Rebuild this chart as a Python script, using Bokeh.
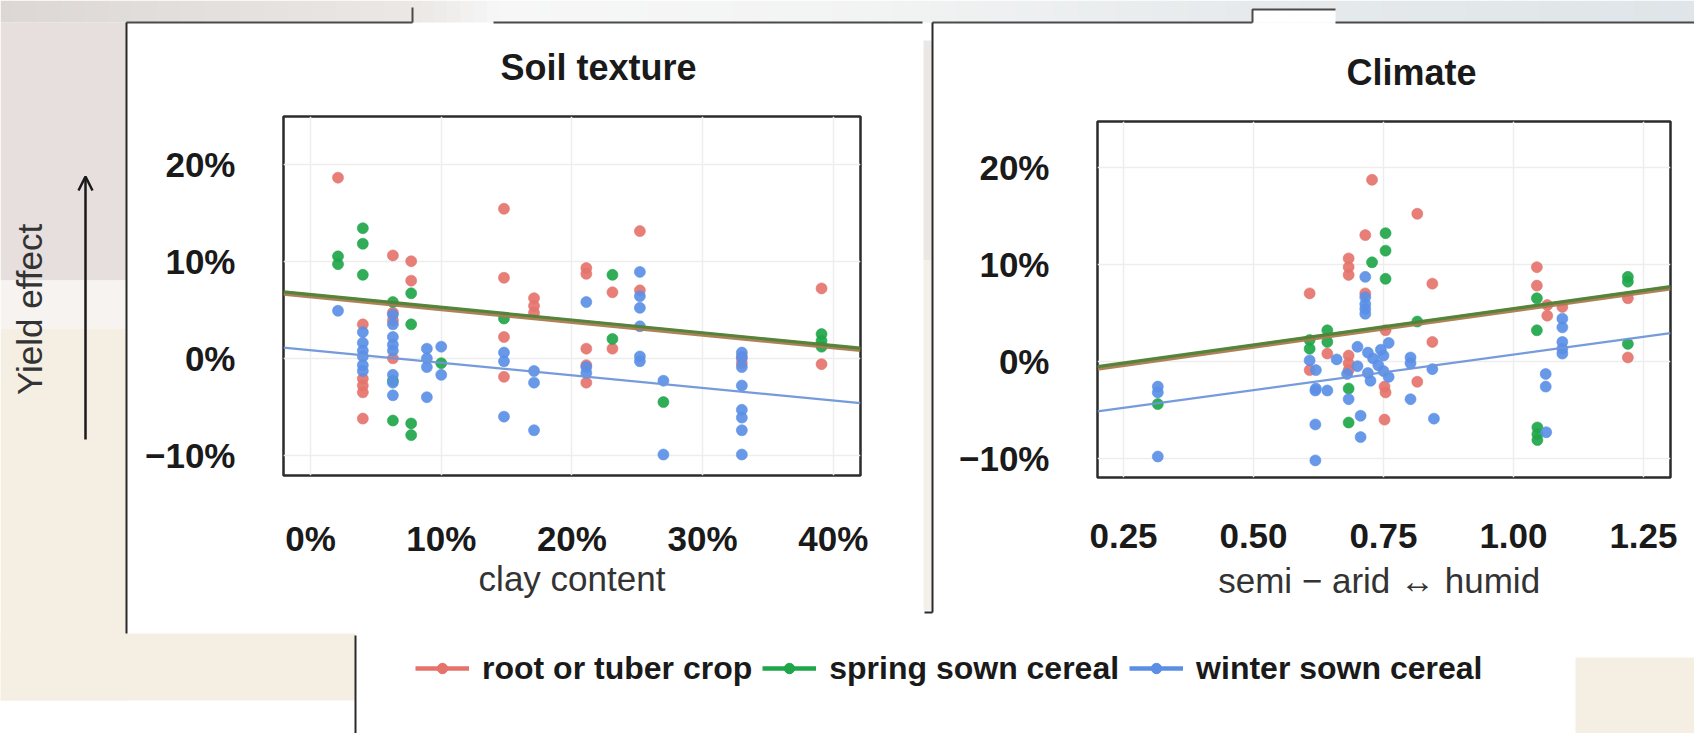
import math
from bokeh.plotting import figure
from bokeh.models import (Range1d, FixedTicker, CustomJSTickFormatter, Legend, LegendItem,
                          Arrow, OpenHead, GridBox, Label)
from bokeh.embed import file_html
from bokeh.resources import INLINE

W, H = 1694, 733
FONT = "Liberation Sans"
INK = "#1a1a1a"
NAN = float("nan")

# ---------------------------------------------------------------- data
crop_groups = ["root or tuber crop", "spring sown cereal", "winter sown cereal"]
group_colors = ["#E5736C", "#1FA64A", "#5B8FE6"]
fit_colors = ["#A97B50", "#4F8338", "#6E96DA"]
fit_widths = [5.0, 3.2, 2.2]

# Soil texture panel: clay content (%) vs yield effect (%)
soil_clay_root = [2.1, 4.0, 4.0, 4.0, 4.0, 4.0, 6.3, 6.3, 6.3, 6.3, 7.7, 7.7,
                  14.8, 14.8, 14.8, 14.8, 17.1, 17.1, 17.1, 21.1, 21.1, 21.1, 21.1, 21.1,
                  23.1, 23.1, 25.2, 25.2, 33.0, 33.0, 39.1, 39.1]
soil_yield_root = [18.6, 3.5, -2.1, -2.8, -3.5, -6.2, 10.6, 4.7, 3.9, 0.0, 10.0, 8.0,
                   15.4, 8.3, 2.2, -1.9, 6.2, 5.4, 4.7, 9.3, 8.7, 1.0, -0.7, -2.5,
                   6.8, 1.0, 13.1, 7.0, 0.2, -0.5, 7.2, -0.6]

soil_clay_spring = [2.1, 2.1, 4.0, 4.0, 4.0, 6.3, 6.3, 6.3, 7.7, 7.7, 7.7, 7.7,
                    10.0, 14.8, 23.1, 23.1, 27.0, 39.1, 39.1, 39.1]
soil_yield_spring = [10.5, 9.7, 13.4, 11.8, 8.6, 5.8, -2.3, -6.4, 6.7, 3.5, -6.7, -7.9,
                     -0.5, 4.1, 8.6, 2.0, -4.5, 2.5, 1.8, 1.2]

soil_clay_winter = [2.1, 4.0, 4.0, 4.0, 4.0, 4.0, 4.0,
                    6.3, 6.3, 6.3, 6.3, 6.3, 6.3, 6.3, 6.3,
                    8.9, 8.9, 8.9, 8.9, 10.0, 10.0, 14.8, 14.8, 14.8,
                    17.1, 17.1, 17.1, 21.1, 21.1, 21.1,
                    25.2, 25.2, 25.2, 25.2, 25.2, 25.2, 27.0, 27.0,
                    33.0, 33.0, 33.0, 33.0, 33.0, 33.0, 33.0, 33.0]
soil_yield_winter = [4.9, 2.7, 1.6, 0.8, 0.2, -0.7, -1.3,
                     4.5, 3.5, 2.2, 1.4, 0.8, -1.7, -2.5, -3.8,
                     1.0, 0.0, -0.9, -4.0, 1.2, -1.7, 0.6, -0.3, -6.0,
                     -1.3, -2.5, -7.4, 5.8, -0.9, -1.5,
                     8.9, 6.4, 5.2, 3.3, 0.2, -0.3, -2.3, -9.9,
                     0.6, 0.0, -0.9, -2.8, -5.3, -6.1, -7.4, -9.9]

# Climate panel: aridity index vs yield effect (%)
clim_index_root = [0.728, 0.815, 0.715, 0.683, 0.683, 0.683, 0.844, 0.608, 1.045, 1.045,
                   1.065, 1.094, 1.22, 1.22, 0.844, 0.642, 0.608, 0.683, 0.683, 0.683,
                   0.815, 0.754, 0.752, 0.752, 0.715, 0.754, 1.065]
clim_yield_root = [18.7, 15.2, 13.0, 10.6, 9.7, 8.9, 8.0, 7.0, 9.7, 7.8,
                   4.7, 5.6, 6.5, 0.4, 2.0, 0.8, -0.9, 0.6, -0.2, -0.9,
                   -2.1, -3.2, -2.6, -6.0, 7.0, 3.2, 5.8]

clim_index_spring = [0.754, 0.754, 0.728, 0.754, 1.045, 1.045, 1.22, 1.22, 1.22, 0.815,
                     0.642, 0.642, 0.608, 0.608, 0.683, 0.316, 0.683, 1.046, 1.046, 1.046]
clim_yield_spring = [13.2, 11.4, 10.2, 8.5, 6.5, 3.2, 8.7, 8.2, 1.8, 4.1,
                     3.2, 2.0, 2.2, 1.3, -2.8, -4.4, -6.3, -6.8, -7.5, -8.1]

clim_index_winter = [0.316, 0.316, 0.316, 0.619, 0.619, 0.619, 0.642, 0.683, 0.706, 0.706,
                     0.802, 0.847, 0.725, 0.715, 0.715, 0.715, 0.715, 0.715,
                     1.094, 1.094, 1.094, 1.094, 1.094, 0.608, 0.62, 0.62, 0.802, 0.802,
                     0.844, 1.062, 1.062, 1.063, 0.70, 0.72, 0.73, 0.74, 0.75, 0.76,
                     0.75, 0.72, 0.70, 0.76, 0.745, 0.68, 0.66]
clim_yield_winter = [-2.6, -3.2, -9.8, -3.0, -6.5, -10.2, -3.0, -3.9, -5.6, -7.8,
                     -3.9, -5.9, -2.0, 8.7, 6.6, 5.9, 5.4, 4.9,
                     4.4, 3.5, 2.0, 1.3, 0.8, 0.1, -0.9, -2.8, 0.4, -0.2,
                     -0.8, -1.3, -2.6, -7.3, 1.5, 0.9, 0.3, -0.4, -1.0, 1.9,
                     0.6, -1.2, -0.5, -1.6, 1.2, -1.3, 0.2]

# linear fits, value at both ends of each panel's x extent
soil_fit_clay = [-2.07, 42.08]
soil_fit_root = [6.7, 0.9]
soil_fit_spring = [6.85, 1.05]
soil_fit_winter = [1.1, -4.6]

clim_fit_index = [0.20, 1.302]
clim_fit_root = [-0.7, 7.55]
clim_fit_spring = [-0.55, 7.7]
clim_fit_winter = [-5.15, 2.9]

clay_ticks = [0, 10, 20, 30, 40]
climate_ticks = [0.25, 0.50, 0.75, 1.00, 1.25]
yield_ticks = [-10, 0, 10, 20]


def no_frame_align(p):
    # figures share one grid cell; keep each frame where its own borders put it
    if "frame_align" in p.properties():
        p.frame_align = False
    return p


# ---------------------------------------------------------------- slide backdrop
bg = figure(width=W, height=H, x_range=Range1d(0, W), y_range=Range1d(H, 0),
            x_axis_location=None, y_axis_location=None, toolbar_location=None,
            output_backend="svg", min_border=0, outline_line_color=None,
            background_fill_color="white", border_fill_color="white")
bg.grid.visible = False
no_frame_align(bg)


def hexmix(c1, c2, t):
    a = [int(c1[i:i + 2], 16) for i in (1, 3, 5)]
    b = [int(c2[i:i + 2], 16) for i in (1, 3, 5)]
    return "#%02x%02x%02x" % tuple(round(a[k] + (b[k] - a[k]) * t) for k in range(3))


# top strip, shaded from warm grey to pale blue-grey
stops = [(0, "#dcd7d5"), (420, "#ebe8e6"), (500, "#f7f7f7"), (880, "#f2f3f3"),
         (1250, "#e6eaec"), (1694, "#dfe5e8")]
ls, rs, cs = [], [], []
for (x0, c0), (x1, c1) in zip(stops[:-1], stops[1:]):
    n = max(1, (x1 - x0) // 12)
    for k in range(n):
        ls.append(x0 + (x1 - x0) * k / n)
        rs.append(x0 + (x1 - x0) * (k + 1) / n + 0.5)
        cs.append(hexmix(c0, c1, (k + 0.5) / n))
bg.quad(left=ls, right=rs, top=[0] * len(ls), bottom=[22] * len(ls),
        fill_color=cs, line_color=None)
bg.quad(left=[1252], right=[1335], top=[9], bottom=[22], fill_color="white", line_color=None)

# left margin bands and beige footer blocks
bg.quad(left=[0, 0, 0, 0, 1575], right=[126, 126, 126, 355, 1694],
        top=[22, 280, 328, 633, 657], bottom=[280, 328, 700, 700, 733],
        fill_color=["#e6dfdd", "#f6f3f0", "#f5efe3", "#f5efe3", "#f5efe3"], line_color=None)
# narrow shaded edge beside the right panel
bg.quad(left=[923, 923], right=[931, 931], top=[40, 260], bottom=[260, 610],
        fill_color=["#ebe7e4", "#f3efe9"], line_color=None)

# panel edge rules
bg.multi_line(xs=[[126, 412], [412, 412], [493, 922], [932, 1252], [1252, 1252, 1335],
                  [1335, 1694]],
              ys=[[22, 22], [22, 7], [22, 22], [22, 22], [22, 9, 9], [22, 22]],
              line_color="#4a4a4a", line_width=2)
bg.multi_line(xs=[[126, 126], [932, 932], [924, 932], [355, 355]],
              ys=[[22, 633], [22, 612], [612, 612], [635, 733]],
              line_color="#2a2a2a", line_width=2)

bg.add_layout(Label(x=29, y=309, text="Yield effect", angle=math.pi / 2,
                    text_align="center", text_baseline="middle",
                    text_font=FONT, text_font_size="35px", text_color="#333333"))
bg.add_layout(Arrow(x_start=85, y_start=439, x_end=85, y_end=176,
                    line_color=INK, line_width=2.5,
                    end=OpenHead(size=14, line_width=2.5, line_color=INK)))


# ---------------------------------------------------------------- panels
def panel(xr, yr, frame, title, title_offset, xlabel, xticks, xfmt,
          tick_standoff, label_standoff):
    left, right, top, bottom = frame
    p = figure(width=W, height=H, x_range=xr, y_range=yr, output_backend="svg",
               toolbar_location=None,
               min_border_left=left, min_border_right=W - right,
               min_border_top=top, min_border_bottom=H - bottom,
               background_fill_color="white", border_fill_alpha=0,
               outline_line_color="#2b2b2b", outline_line_width=2.5)
    no_frame_align(p)
    p.title.text = title
    p.title.align = "left"
    p.title.offset = title_offset
    p.title.standoff = 58
    p.title.text_font = FONT
    p.title.text_font_size = "36px"
    p.title.text_font_style = "bold"
    p.title.text_color = INK

    p.xaxis.ticker = FixedTicker(ticks=xticks)
    p.xaxis.formatter = CustomJSTickFormatter(code=xfmt)
    p.yaxis.ticker = FixedTicker(ticks=yield_ticks)
    p.yaxis.formatter = CustomJSTickFormatter(
        code="return (tick < 0 ? '\\u2212' : '') + Math.abs(tick) + '%'")
    for ax in (p.xaxis[0], p.yaxis[0]):
        ax.axis_line_color = None
        ax.major_tick_line_color = None
        ax.minor_tick_line_color = None
        ax.major_tick_out = 0
        ax.major_tick_in = 0
        ax.major_label_text_font = FONT
        ax.major_label_text_font_size = "35px"
        ax.major_label_text_font_style = "bold"
        ax.major_label_text_color = INK
    p.xaxis.major_label_standoff = tick_standoff
    p.yaxis.major_label_standoff = 48
    p.xaxis.axis_label = xlabel
    p.xaxis.axis_label_text_font = FONT
    p.xaxis.axis_label_text_font_size = "35px"
    p.xaxis.axis_label_text_font_style = "normal"
    p.xaxis.axis_label_text_color = "#333333"
    p.xaxis.axis_label_standoff = label_standoff
    p.grid.grid_line_color = "#ededed"
    p.grid.grid_line_width = 1.5
    return p


pl = panel(Range1d(-2.07, 42.08), Range1d(-12.06, 24.9), (283, 860, 116, 475),
           "Soil texture", 217, "clay content", clay_ticks, "return tick + '%'", 43, -2)
pr = panel(Range1d(0.20, 1.302), Range1d(-11.96, 24.7), (1097, 1670, 121, 477),
           "Climate", 249, "semi \u2212 arid \u2194  humid", climate_ticks,
           "return tick.toFixed(2)", 46, 10)

soil_series = [(soil_clay_root, soil_yield_root, soil_fit_root),
               (soil_clay_spring, soil_yield_spring, soil_fit_spring),
               (soil_clay_winter, soil_yield_winter, soil_fit_winter)]
clim_series = [(clim_index_root, clim_yield_root, clim_fit_root),
               (clim_index_spring, clim_yield_spring, clim_fit_spring),
               (clim_index_winter, clim_yield_winter, clim_fit_winter)]

for p, series, fit_x in ((pl, soil_series, soil_fit_clay), (pr, clim_series, clim_fit_index)):
    for (xs, ys, _), col in zip(series, group_colors):
        p.scatter(xs, ys, size=11, fill_color=col, line_color=col,
                  fill_alpha=0.92, line_alpha=0.6)
    for (_, _, fy), col, w in zip(series, fit_colors, fit_widths):
        p.line(fit_x, fy, line_color=col, line_width=w, line_alpha=0.95)

# ---------------------------------------------------------------- shared legend row
lg = figure(width=W, height=H, x_range=Range1d(0, 1), y_range=Range1d(0, 1),
            x_axis_location=None, y_axis_location=None, toolbar_location=None,
            output_backend="svg", min_border_left=415, min_border_right=W - 1540,
            min_border_top=638, min_border_bottom=H - 698,
            background_fill_alpha=0, border_fill_alpha=0, outline_line_color=None)
lg.grid.visible = False
no_frame_align(lg)
items = []
for g, col in zip(crop_groups, group_colors):
    # key carriers: one undefined point each, so only the legend swatch is drawn
    key_line = lg.line(x=[NAN, NAN], y=[NAN, NAN], line_color=col, line_width=4.5)
    key_dot = lg.scatter(x=[NAN], y=[NAN], size=11, fill_color=col, line_color=col)
    items.append(LegendItem(label=g, renderers=[key_line, key_dot]))
lg.add_layout(Legend(items=items, location="left", orientation="horizontal",
                     glyph_width=54, glyph_height=26, label_height=40, label_standoff=13,
                     spacing=10, padding=0, margin=0,
                     label_text_font=FONT, label_text_font_size="32px",
                     label_text_font_style="bold", label_text_color=INK,
                     background_fill_alpha=0, border_line_color=None))

root = GridBox(children=[(bg, 0, 0), (pl, 0, 0), (pr, 0, 0), (lg, 0, 0)], spacing=0)

with open("out.html", "w", encoding="utf-8") as fh:
    fh.write(file_html(root, INLINE))
